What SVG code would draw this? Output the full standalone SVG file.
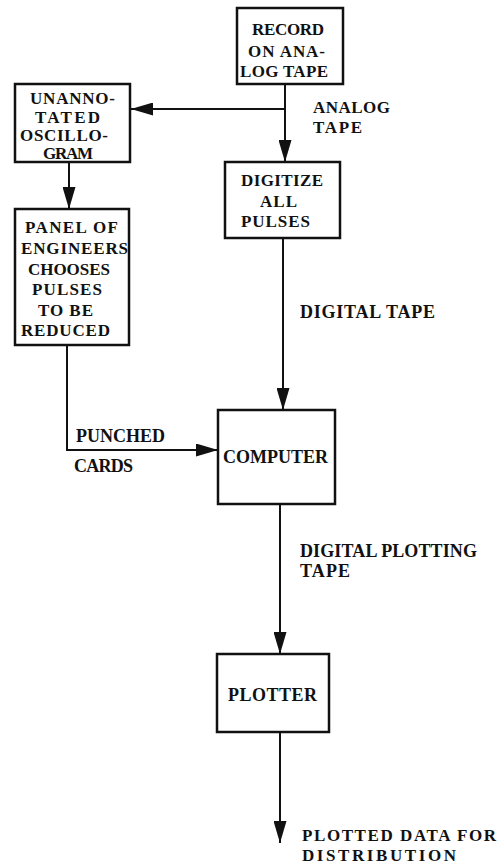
<svg xmlns="http://www.w3.org/2000/svg" width="500" height="867" viewBox="0 0 500 867">
  <style>
    .box { fill: #ffffff; stroke: #111111; stroke-width: 2.5; }
    .t { font-family: "Liberation Serif", "Times New Roman", serif; font-weight: bold; font-size: 17px; fill: #111111; }
    .l { font-size: 18px; }
    .c { fill: none; stroke: #111111; stroke-width: 2; }
  </style>
  <defs>
    <marker id="ah" markerUnits="userSpaceOnUse" markerWidth="22" markerHeight="13" refX="22" refY="6.5" orient="auto">
      <path d="M0,0 L22,6.5 L0,13 z" fill="#111111"/>
    </marker>
  </defs>
  <rect width="500" height="867" fill="#ffffff"/>

  <g id="connectors">
    <path class="c" d="M285,84 L285,162" marker-end="url(#ah)"/>
    <path class="c" d="M285,109 L131,109" marker-end="url(#ah)"/>
    <path class="c" d="M69,162 L69,209" marker-end="url(#ah)"/>
    <path class="c" d="M283,238 L283,410" marker-end="url(#ah)"/>
    <path class="c" d="M67,345 L67,450 L218,450" marker-end="url(#ah)"/>
    <path class="c" d="M280,504 L280,654" marker-end="url(#ah)"/>
    <path class="c" d="M280,732 L280,843" marker-end="url(#ah)"/>
  </g>

  <g id="labels">
    <text class="t" x="313" y="113" textLength="77">ANALOG</text>
    <text class="t" x="313" y="133" textLength="49">TAPE</text>
    <text class="t l" x="300" y="318" textLength="135">DIGITAL TAPE</text>
    <text class="t l" x="76" y="442" textLength="89">PUNCHED</text>
    <text class="t l" x="74" y="472" textLength="59">CARDS</text>
    <text class="t l" x="300" y="557" textLength="177">DIGITAL PLOTTING</text>
    <text class="t l" x="300" y="577" textLength="50">TAPE</text>
    <text class="t" x="302" y="841" textLength="194">PLOTTED DATA FOR</text>
    <text class="t" x="302" y="861" textLength="154">DISTRIBUTION</text>
  </g>

  <g id="record">
    <rect class="box" x="237" y="8" width="106" height="76"/>
    <text class="t" x="252" y="35" textLength="72">RECORD</text>
    <text class="t" x="248" y="57" textLength="77">ON ANA-</text>
    <text class="t" x="240" y="77" textLength="88">LOG TAPE</text>
  </g>

  <g id="oscillogram">
    <rect class="box" x="15" y="84" width="115" height="78"/>
    <text class="t" x="30" y="104" textLength="85">UNANNO-</text>
    <text class="t" x="35" y="123" textLength="65">TATED</text>
    <text class="t" x="20" y="141" textLength="88">OSCILLO-</text>
    <text class="t" x="43" y="159" textLength="50">GRAM</text>
  </g>

  <g id="digitize">
    <rect class="box" x="225" y="162" width="115" height="76"/>
    <text class="t" x="241" y="186" textLength="82">DIGITIZE</text>
    <text class="t" x="260" y="207" textLength="37">ALL</text>
    <text class="t" x="241" y="227" textLength="69">PULSES</text>
  </g>

  <g id="panel">
    <rect class="box" x="15" y="209" width="114" height="136"/>
    <text class="t" x="25" y="233" textLength="93">PANEL OF</text>
    <text class="t" x="21" y="254" textLength="107">ENGINEERS</text>
    <text class="t" x="28" y="275" textLength="82">CHOOSES</text>
    <text class="t" x="32" y="295" textLength="70">PULSES</text>
    <text class="t" x="38" y="316" textLength="55">TO BE</text>
    <text class="t" x="21" y="336" textLength="89">REDUCED</text>
  </g>

  <g id="computer">
    <rect class="box" x="218" y="410" width="117" height="94"/>
    <text class="t l" x="223" y="463" textLength="105">COMPUTER</text>
  </g>

  <g id="plotter">
    <rect class="box" x="217" y="654" width="112" height="78"/>
    <text class="t l" x="228" y="701" textLength="89">PLOTTER</text>
  </g>
</svg>
